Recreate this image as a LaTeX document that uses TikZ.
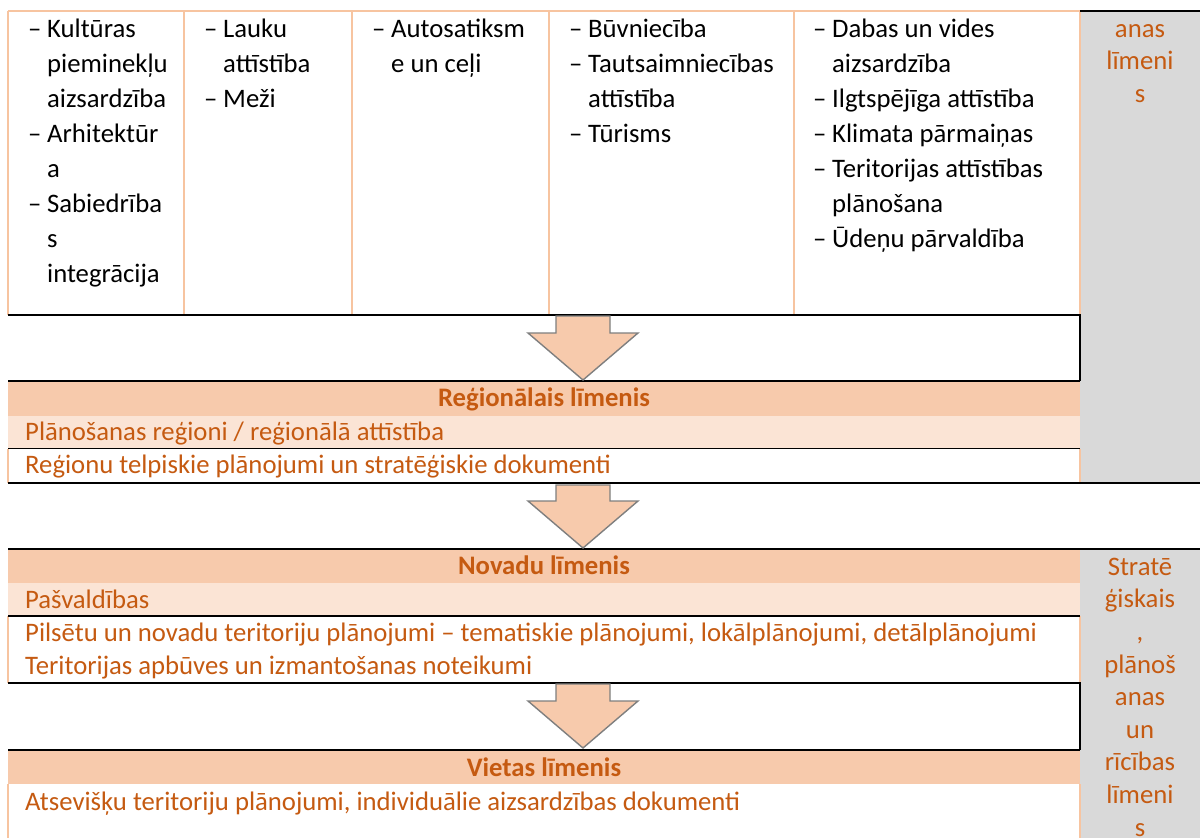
\documentclass[tikz,border=0pt]{standalone}
\usepackage{fontspec}
\setmainfont{Carlito}
\definecolor{hdrfill}{HTML}{F7CAAC}
\definecolor{lightfill}{HTML}{FBE4D5}
\definecolor{grayfill}{HTML}{D9D9D9}
\definecolor{otxt}{HTML}{C55A11}
\definecolor{cellborder}{HTML}{F7C4A0}
\definecolor{arrowfill}{HTML}{F7CAAC}
\definecolor{arrowline}{HTML}{7F7F7F}
\newcommand\itm{\makebox[19pt][l]{–}}
\newcommand\cnt{\hspace*{19pt}}
\begin{document}
\begin{tikzpicture}[x=1pt,y=-1pt,
  blk/.style={line width=1.8pt, draw=black},
  pch/.style={line width=1.4pt, draw=cellborder},
  arr/.style={fill=arrowfill, draw=arrowline, line width=1.4pt, line join=miter},
  cell/.style={anchor=north west, inner sep=0pt, align=left, font=\fontsize{26.7}{35}\selectfont, text=black},
  otext/.style={anchor=base west, inner sep=0pt, text=otxt, font=\fontsize{26.7}{33}\selectfont},
  ohead/.style={anchor=base, inner sep=0pt, text=otxt, font=\fontsize{26.7}{33}\selectfont\bfseries},
  gtext/.style={anchor=north, inner sep=0pt, align=center, text=otxt, font=\fontsize{26.7}{32.6}\selectfont},
]
\useasboundingbox (0,0) rectangle (1200,838);
\fill[white] (0,0) rectangle (1200,838);
% fills
\fill[grayfill] (1080,11) rectangle (1200,483);
\fill[grayfill] (1080,549) rectangle (1200,838);
\fill[hdrfill] (8,381) rectangle (1080,415.5);
\fill[lightfill] (8,415.5) rectangle (1080,448.5);
\fill[hdrfill] (8,549) rectangle (1080,583);
\fill[lightfill] (8,583) rectangle (1080,616);
\fill[hdrfill] (8,750) rectangle (1080,784);
% top table peach borders
\draw[pch] (8,11) -- (1080,11);
\foreach \x in {8,184,352,549,794,1080} \draw[pch] (\x,11) -- (\x,315);
% peach side borders of white rows
\draw[pch] (8,448.5) -- (8,483);
\draw[pch] (1080,448.5) -- (1080,483);
\draw[pch] (8,616) -- (8,683);
\draw[pch] (1080,616) -- (1080,683);
\draw[pch] (8,784) -- (8,838);
\draw[pch] (1080,784) -- (1080,838);
% black lines
\draw[blk] (1080,11) -- (1200,11);
\draw[blk] (8,315) -- (1080,315) -- (1080,381);
\draw[blk] (8,381) -- (1080,381);
\draw[blk] (8,448.5) -- (1080,448.5);
\draw[blk] (8,483) -- (1200,483);
\draw[blk] (8,549) -- (1200,549);
\draw[blk] (8,616) -- (1080,616);
\draw[blk] (8,683) -- (1080,683) -- (1080,750);
\draw[blk] (8,750) -- (1080,750);
% arrows
\draw[arr] (556,316) -- (610,316) -- (610,333) -- (638,333) -- (583,380) -- (528,333) -- (556,333) -- cycle;
\draw[arr] (556,485) -- (610,485) -- (610,501) -- (638,501) -- (583,548) -- (528,501) -- (556,501) -- cycle;
\draw[arr] (556,684) -- (610,684) -- (610,701) -- (638,701) -- (583,748) -- (528,701) -- (556,701) -- cycle;
% top cells
\node[cell] (c1) at (28,12.5) {\strut\itm Kultūras\\\cnt pieminekļu\\\cnt aizsardzība\\\itm Arhitektūr\\\cnt a\\\itm Sabiedrība\\\cnt s\\\cnt integrācija};
\node[cell] (c2) at (204,12.5) {\strut\itm Lauku\\\cnt attīstība\\\itm Meži};
\node[cell] (c3) at (372,12.5) {\strut\itm Autosatiksm\\\cnt e un ceļi};
\node[cell] (c4) at (569,12.5) {\strut\itm Būvniecība\\\itm Tautsaimniecības\\\cnt attīstība\\\itm Tūrisms};
\node[cell] (c5) at (813,12.5) {\strut\itm Dabas un vides\\\cnt aizsardzība\\\itm Ilgtspējīga attīstība\\\itm Klimata pārmaiņas\\\itm Teritorijas attīstības\\\cnt plānošana\\\itm Ūdeņu pārvaldība};
% gray column texts
\node[gtext] (g1) at (1140,14.3) {\strut anas\\līmeni\\s};
\node[gtext] (g2) at (1140,552.2) {\strut Stratē\\ģiskais\\,\\plānoš\\anas\\un\\rīcības\\līmeni\\s};
% regional
\node[ohead] (rh) at (544,406) {Reģionālais līmenis};
\node[otext] (r1) at (25,440) {Plānošanas reģioni / reģionālā attīstība};
\node[otext] (r2) at (25,473.5) {Reģionu telpiskie plānojumi un stratēģiskie dokumenti};
% novadu
\node[ohead] (nh) at (544,574) {Novadu līmenis};
\node[otext] (n1) at (25,608) {Pašvaldības};
\node[otext] (n2) at (25,641.5) {Pilsētu un novadu teritoriju plānojumi – tematiskie plānojumi, lokālplānojumi, detālplānojumi};
\node[otext] (n3) at (25,674.5) {Teritorijas apbūves un izmantošanas noteikumi};
% vietas
\node[ohead] (vh) at (544,776) {Vietas līmenis};
\node[otext] (v1) at (25,810) {Atsevišķu teritoriju plānojumi, individuālie aizsardzības dokumenti};
\end{tikzpicture}
\end{document}
